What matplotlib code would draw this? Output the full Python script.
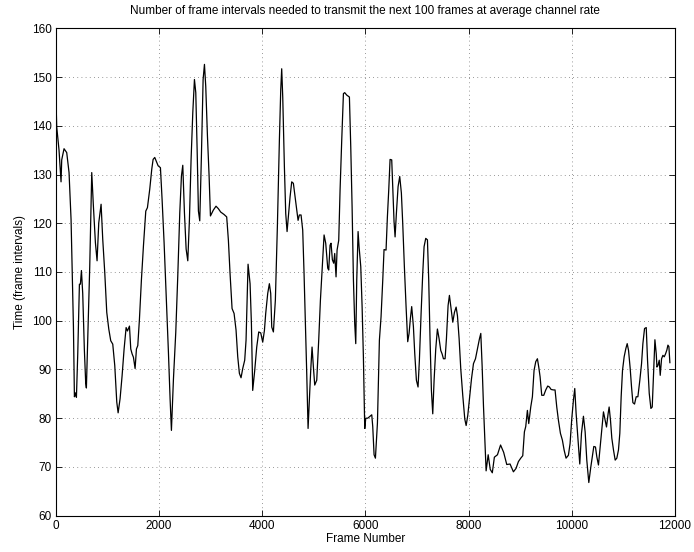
import matplotlib
matplotlib.use("Agg")
import matplotlib.pyplot as plt

frames = [0, 19, 64, 103, 116, 161, 213, 258, 297, 343, 362, 381, 401, 427, 459, 478, 498, 523,
          555, 581, 594, 626, 659, 698, 730, 769, 801, 834, 879, 911, 950, 989, 1028, 1066, 1105,
          1144, 1183, 1209, 1247, 1286, 1325, 1364, 1390, 1429, 1454, 1480, 1506, 1538, 1564, 1590,
          1622, 1661, 1700, 1745, 1777, 1822, 1861, 1887, 1919, 1945, 1984, 2029, 2061, 2100, 2139,
          2184, 2216, 2242, 2281, 2326, 2365, 2404, 2436, 2462, 2494, 2527, 2559, 2591, 2623, 2656,
          2688, 2714, 2740, 2765, 2791, 2823, 2856, 2882, 2907, 2940, 2972, 2998, 3054, 3106, 3151,
          3197, 3262, 3313, 3346, 3378, 3417, 3456, 3494, 3527, 3559, 3591, 3624, 3662, 3688, 3727,
          3766, 3792, 3817, 3856, 3895, 3934, 3973, 4011, 4044, 4069, 4108, 4140, 4166, 4186, 4218,
          4256, 4295, 4334, 4360, 4379, 4399, 4431, 4457, 4483, 4508, 4541, 4573, 4605, 4638, 4670,
          4696, 4721, 4754, 4786, 4812, 4838, 4864, 4890, 4915, 4941, 4967, 4993, 5019, 5058, 5096,
          5129, 5161, 5200, 5232, 5271, 5290, 5316, 5335, 5361, 5387, 5406, 5432, 5452, 5484, 5510,
          5542, 5575, 5600, 5639, 5691, 5717, 5743, 5769, 5794, 5814, 5833, 5859, 5878, 5911, 5937,
          5962, 5988, 6008, 6046, 6091, 6124, 6143, 6169, 6195, 6234, 6272, 6304, 6337, 6362, 6401,
          6427, 6453, 6479, 6511, 6537, 6556, 6576, 6601, 6634, 6666, 6698, 6724, 6756, 6789, 6821,
          6847, 6873, 6898, 6931, 6957, 6989, 7021, 7047, 7080, 7112, 7138, 7170, 7203, 7228, 7254,
          7280, 7306, 7332, 7364, 7396, 7429, 7461, 7487, 7513, 7545, 7571, 7603, 7629, 7662, 7694,
          7726, 7759, 7785, 7817, 7849, 7888, 7927, 7953, 7985, 8018, 8057, 8095, 8134, 8173, 8211,
          8237, 8263, 8289, 8315, 8340, 8380, 8420, 8460, 8500, 8560, 8620, 8680, 8740, 8804, 8869,
          8920, 8966, 9011, 9050, 9082, 9108, 9140, 9166, 9205, 9237, 9269, 9302, 9334, 9360, 9386,
          9418, 9457, 9496, 9534, 9567, 9599, 9644, 9676, 9709, 9741, 9780, 9818, 9851, 9889, 9935,
          9967, 10000, 10032, 10058, 10084, 10116, 10155, 10188, 10226, 10259, 10291, 10330, 10369,
          10401, 10427, 10459, 10485, 10517, 10550, 10582, 10614, 10647, 10673, 10705, 10724, 10750,
          10776, 10808, 10841, 10873, 10905, 10931, 10957, 10983, 11015, 11048, 11074, 11100, 11132,
          11158, 11184, 11216, 11248, 11281, 11319, 11352, 11378, 11410, 11443, 11468, 11501, 11533,
          11559, 11585, 11611, 11637, 11650, 11669, 11695, 11714, 11740, 11766, 11792, 11817, 11843,
          11863, 11882, 11901]

values = [147.3, 139.8, 135.0, 128.5, 133.0, 135.3, 134.5, 130.4, 120.8, 98.8, 84.4, 85.2, 84.3,
          93.3, 107.5, 107.5, 110.3, 105.6, 94.0, 87.2, 86.2, 98.8, 111.1, 130.4, 123.5, 116.0,
          112.3, 120.1, 123.9, 116.7, 109.9, 101.7, 98.3, 95.9, 95.2, 90.8, 83.3, 81.1, 84.0, 88.7,
          94.2, 98.6, 97.9, 98.9, 94.2, 93.2, 92.5, 90.2, 94.2, 94.9, 100.3, 108.5, 115.4, 122.5,
          123.2, 127.0, 131.1, 133.1, 133.5, 132.8, 131.8, 131.4, 124.9, 116.0, 105.8, 93.5, 84.0,
          77.5, 88.0, 97.6, 109.2, 122.2, 129.7, 131.9, 122.2, 114.7, 112.3, 120.8, 133.1, 142.7,
          149.5, 146.8, 135.2, 122.5, 120.5, 133.8, 149.5, 152.6, 148.1, 137.9, 129.7, 121.5, 122.7,
          123.5, 123.0, 122.3, 121.8, 121.3, 116.5, 109.7, 102.5, 101.5, 98.1, 92.6, 89.2, 88.3,
          90.2, 91.9, 96.0, 111.6, 107.6, 99.4, 85.7, 89.8, 94.6, 97.7, 97.5, 95.6, 98.0, 101.5,
          105.6, 107.6, 105.6, 98.7, 97.7, 104.2, 119.3, 137.0, 147.3, 151.7, 145.9, 131.6, 122.0,
          118.3, 121.3, 125.4, 128.5, 128.2, 125.4, 122.7, 120.6, 121.7, 121.7, 118.6, 109.7, 99.4,
          89.2, 77.9, 83.7, 89.8, 94.6, 90.5, 86.8, 87.8, 96.0, 104.2, 110.4, 117.6, 115.9, 110.8,
          110.4, 115.5, 115.9, 112.5, 111.8, 113.8, 109.0, 114.5, 116.5, 126.8, 137.0, 146.6, 146.8,
          146.3, 145.9, 135.7, 123.4, 108.3, 99.4, 95.3, 108.3, 118.3, 115.2, 111.1, 102.9, 92.6,
          77.9, 80.0, 80.0, 80.4, 80.7, 78.3, 72.5, 71.8, 79.0, 96.0, 100.8, 108.3, 114.6, 114.5,
          121.3, 126.8, 133.1, 133.0, 125.4, 120.3, 117.2, 122.0, 127.5, 129.6, 126.2, 120.0, 111.1,
          102.9, 95.7, 97.4, 100.5, 102.9, 98.8, 93.3, 87.8, 86.4, 91.9, 101.5, 109.7, 115.2, 116.9,
          116.6, 108.3, 96.0, 85.7, 80.9, 87.8, 94.2, 98.3, 96.3, 93.9, 93.2, 92.2, 92.2, 96.3,
          103.1, 105.2, 102.4, 99.7, 101.7, 102.8, 101.0, 96.3, 90.1, 84.6, 79.8, 78.5, 80.6, 84.0,
          88.1, 91.2, 92.2, 94.3, 96.3, 97.4, 90.7, 82.5, 75.7, 69.2, 72.5, 69.5, 68.8, 72.0, 72.5,
          74.5, 73.0, 70.5, 70.6, 69.0, 69.7, 71.1, 71.8, 72.3, 77.2, 78.3, 81.6, 78.9, 82.3, 84.4,
          89.8, 91.6, 92.2, 90.5, 88.5, 84.7, 84.7, 85.8, 86.6, 86.4, 85.9, 85.8, 85.8, 82.3, 79.6,
          76.9, 75.5, 73.5, 71.8, 72.4, 74.8, 79.9, 83.7, 86.1, 81.0, 76.2, 70.6, 76.9, 80.4, 77.2,
          71.4, 66.8, 70.0, 72.4, 74.2, 74.1, 72.1, 70.4, 74.1, 77.5, 81.3, 79.6, 78.2, 81.0, 82.3,
          79.6, 75.9, 73.5, 71.4, 71.8, 73.5, 76.9, 84.4, 89.8, 92.6, 94.3, 95.3, 93.9, 90.2, 86.4,
          83.2, 82.9, 84.4, 84.4, 87.8, 91.2, 95.3, 98.4, 98.6, 91.9, 85.1, 82.0, 82.3, 89.2, 96.1,
          93.2, 90.5, 90.8, 91.9, 88.8, 92.2, 92.9, 92.6, 93.2, 94.0, 95.0, 94.7, 91.4]

title = "Number of frame intervals needed to transmit the next 100 frames at average channel rate"
xlabel = "Frame Number"
ylabel = "Time (frame intervals)"
xticks = [0, 2000, 4000, 6000, 8000, 10000, 12000]
yticks = [60, 70, 80, 90, 100, 110, 120, 130, 140, 150, 160]

plt.rcParams['font.family'] = ['Liberation Sans', 'DejaVu Sans']

fig = plt.figure(figsize=(6.94, 5.52), dpi=100)
ax = fig.add_axes([0.0803, 0.0658, 0.8923, 0.8829])
ax.plot(frames, values, color='black', linewidth=0.9)
ax.set_xlim(0, 12000)
ax.set_ylim(60, 160)
ax.set_xticks(xticks)
ax.set_yticks(yticks)
ax.tick_params(direction='in', top=True, right=True, labelsize=8.5, length=4, width=0.6, pad=3)
ax.grid(True, linestyle=(0, (1, 4)), color='#777777', linewidth=0.6)
for s in ax.spines.values():
    s.set_linewidth(0.8)
ax.set_title(title, fontsize=8.5, pad=10)
ax.set_xlabel(xlabel, fontsize=8.5, labelpad=1)
ax.set_ylabel(ylabel, fontsize=8.5, labelpad=4)
fig.savefig("out.png", dpi=100)
